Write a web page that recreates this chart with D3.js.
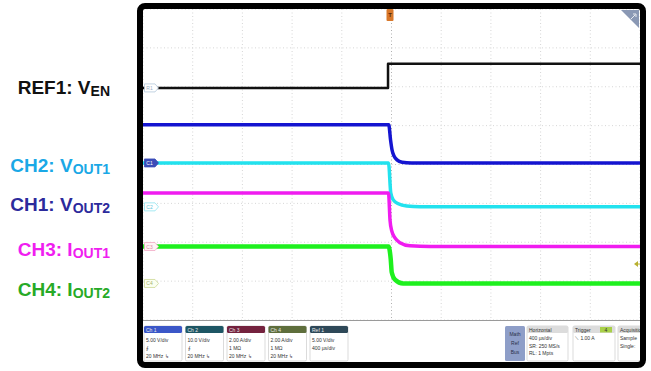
<!DOCTYPE html>
<html>
<head>
<meta charset="utf-8">
<script src="https://cdn.jsdelivr.net/npm/d3@7"></script>
<style>
  html, body { margin: 0; padding: 0; background: #fff; }
  svg { display: block; }
  text { font-family: "Liberation Sans", Arial, Helvetica, sans-serif; }
</style>
</head>
<body>
<svg id="chart" width="651" height="371"></svg>
<script>
// time axis: 400 us/div, 10 div, trigger in the middle
const timeTicks = [-2000, -1600, -1200, -800, -400, 0, 400, 800, 1200, 1600, 2000];
const divTicks = [-4, -3, -2, -1, 0, 1, 2, 3, 4];

// REF1: V_EN (5 V/div)
const refT = [-2000, -28, -28, 2000];
const refV = [0, 0, 3.1, 3.1];
// CH1: V_OUT2 (5 V/div)
const ch1T = [-2000, -22, -8, 4, 20, 44, 85, 160, 2000];
const ch1V = [4.9, 4.9, 3.0, 1.7, 0.9, 0.4, 0.1, 0.0, 0.0];
// CH2: V_OUT1 (10 V/div)
const ch2T = [-2000, -24, -6, 14, 55, 122, 229, 2000];
const ch2V = [11.3, 11.3, 3.6, 1.8, 0.8, 0.2, 0.0, 0.0];
// CH3: I_OUT1 (2 A/div)
const ch3T = [-2000, -24, -12, 2, 28, 68, 149, 310, 2000];
const ch3V = [2.75, 2.75, 1.36, 0.8, 0.44, 0.2, 0.04, 0.0, 0.0];
// CH4: I_OUT2 (2 A/div)
const ch4T = [-2000, -24, -6, 2, 28, 93, 2000];
const ch4V = [1.9, 1.9, 1.23, 0.57, 0.2, 0.0, 0.0];

const triggerLevel = 1.0; // A, on CH4

// channel setup: units per div and ground position (div)
const channels = [
  { id: 'R1', t: refT, v: refV, scale: 5, pos: 1.97, color: '#111', width: 2.5, curve: d3.curveLinear,
    mark: { fill: '#fff', stroke: '#b4c8dc', text: '#9ab0c8' } },
  { id: 'C1', t: ch1T, v: ch1V, scale: 5, pos: 0.04, color: '#1414d0', width: 3.5, curve: d3.curveMonotoneX,
    mark: { fill: '#3b4cb8', stroke: '#3b4cb8', text: '#fff' } },
  { id: 'C2', t: ch2T, v: ch2V, scale: 10, pos: -1.09, color: '#22e2ee', width: 3.5, curve: d3.curveMonotoneX,
    mark: { fill: '#fff', stroke: '#8fe4f0', text: '#60c8dc' } },
  { id: 'C3', t: ch3T, v: ch3V, scale: 2, pos: -2.11, color: '#f01cf0', width: 3.5, curve: d3.curveMonotoneX,
    mark: { fill: '#fff4f6', stroke: '#f0a8c4', text: '#d88aa8' } },
  { id: 'C4', t: ch4T, v: ch4V, scale: 2, pos: -3.06, color: '#1ef01e', width: 4.5, curve: d3.curveMonotoneX,
    mark: { fill: '#fbfff0', stroke: '#cbd896', text: '#a8b470' } }
];

const labels = [
  { main: 'REF1: V', sub: 'EN', color: '#111', y: 94 },
  { main: 'CH2: V', sub: 'OUT1', color: '#1aa8e6', y: 172 },
  { main: 'CH1: V', sub: 'OUT2', color: '#2c2a9c', y: 211 },
  { main: 'CH3: I', sub: 'OUT1', color: '#f01ef0', y: 256 },
  { main: 'CH4: I', sub: 'OUT2', color: '#27aa27', y: 296 }
];

const chanBoxes = [
  { head: 'Ch 1', color: '#3b57c8', lines: ['5.00 V/div', '\u2A19', '20 MHz \u21B3'] },
  { head: 'Ch 2', color: '#1d5664', lines: ['10.0 V/div', '\u2A19', '20 MHz \u21B3'] },
  { head: 'Ch 3', color: '#74223e', lines: ['2.00 A/div', '1 M\u03A9', '20 MHz \u21B3'] },
  { head: 'Ch 4', color: '#5e6e3c', lines: ['2.00 A/div', '1 M\u03A9', '20 MHz \u21B3'] },
  { head: 'Ref 1', color: '#2e4858', lines: ['5.00 V/div', '400 \u00B5s/div'] }
];

const svg = d3.select('#chart');
const plot = { left: 143, right: 640, top: 9, bottom: 320 };

const x = d3.scaleLinear().domain([-2000, 2000]).range([plot.left, plot.right]);
const y = d3.scaleLinear().domain([-4, 4]).range([plot.bottom, plot.top]);

svg.append('rect').attr('x', plot.left).attr('y', plot.top)
  .attr('width', plot.right - plot.left).attr('height', 362 - plot.top).attr('fill', '#fff');

// grid
const grid = svg.append('g').attr('stroke', '#d6d6d6').attr('stroke-width', 1).attr('stroke-dasharray', '1,2.5');
grid.selectAll('.vg').data(timeTicks).enter().append('line')
  .attr('x1', d => x(d)).attr('x2', d => x(d))
  .attr('y1', plot.top).attr('y2', plot.bottom)
  .attr('stroke', d => d === 0 ? '#b0b0b0' : null);
grid.selectAll('.hg').data(divTicks).enter().append('line')
  .attr('y1', d => y(d)).attr('y2', d => y(d))
  .attr('x1', plot.left).attr('x2', plot.right)
  .attr('stroke', d => d === 0 ? '#c4c4c4' : null);

// plot bottom border
svg.append('line').attr('x1', plot.left).attr('x2', plot.right)
  .attr('y1', plot.bottom + 0.5).attr('y2', plot.bottom + 0.5)
  .attr('stroke', '#9a9a9a').attr('stroke-width', 1);

// traces
const traces = svg.append('g');
channels.forEach(ch => {
  const pts = ch.t.map((t, i) => [t, ch.v[i]]);
  const line = d3.line()
    .x(d => x(d[0]))
    .y(d => y(ch.pos + d[1] / ch.scale))
    .curve(ch.curve);
  traces.append('path')
    .attr('d', line(pts))
    .attr('fill', 'none')
    .attr('stroke', ch.color)
    .attr('stroke-width', ch.width)
    .attr('stroke-linejoin', 'round');
});

// ground markers on the left edge
const marks = svg.append('g');
channels.forEach(ch => {
  const my = y(ch.pos);
  const g = marks.append('g').attr('transform', `translate(${plot.left + 1},${my})`);
  g.append('path')
    .attr('d', 'M0.5,-4 L11,-4 L14.5,0 L11,4 L0.5,4 Z')
    .attr('fill', ch.mark.fill).attr('stroke', ch.mark.stroke).attr('stroke-width', 0.8);
  g.append('text').attr('x', 5.5).attr('y', 2).attr('text-anchor', 'middle')
    .attr('font-size', 5).attr('fill', ch.mark.text).text(ch.id);
});

// trigger level marker (right edge)
const trigY = y(channels[4].pos + triggerLevel / channels[4].scale);
svg.append('path')
  .attr('d', `M${plot.right - 6},${trigY} L${plot.right - 2},${trigY - 3} L${plot.right - 2},${trigY + 3} Z`)
  .attr('fill', '#b8b030');
svg.append('line').attr('x1', plot.right - 4).attr('x2', plot.right).attr('y1', trigY).attr('y2', trigY)
  .attr('stroke', '#b8b030').attr('stroke-width', 1);

// trigger position marker (top)
const tx = x(-12);
svg.append('rect').attr('x', tx - 3.5).attr('y', plot.top).attr('width', 7).attr('height', 12)
  .attr('rx', 1).attr('fill', '#d8782a');
svg.append('text').attr('x', tx).attr('y', plot.top + 8).attr('text-anchor', 'middle')
  .attr('font-size', 6).attr('font-weight', 'bold').attr('fill', '#5a2a08').text('T');

// top-right corner icon
svg.append('path').attr('d', 'M621,10 L639,10 L639,28 Z').attr('fill', '#8a98b4');
svg.append('path').attr('d', 'M631,19 L635,15 M633,14 L636,14 L636,17')
  .attr('stroke', '#fff').attr('stroke-width', 0.8).attr('fill', 'none');

// bottom info boxes
const info = svg.append('g').attr('font-size', 5);
const boxTop = 326, boxH = 35;
chanBoxes.forEach((b, i) => {
  const bx = 144 + i * 41.5;
  const g = info.append('g').attr('transform', `translate(${bx},${boxTop})`);
  g.append('rect').attr('width', 38).attr('height', boxH).attr('rx', 1.5)
    .attr('fill', '#fff').attr('stroke', '#d2d2d2').attr('stroke-width', 0.8);
  g.append('rect').attr('width', 38).attr('height', 7).attr('rx', 1.5).attr('fill', b.color);
  g.append('text').attr('x', 2).attr('y', 5.5).attr('fill', '#e8e8e8').text(b.head);
  b.lines.forEach((l, j) => {
    g.append('text').attr('x', 2).attr('y', 15.5 + j * 8).attr('fill', '#333').text(l);
  });
});

// Math / Ref / Bus
const mrb = info.append('g').attr('transform', `translate(505,${boxTop})`);
mrb.append('rect').attr('width', 20).attr('height', boxH).attr('rx', 1.5).attr('fill', '#8e9ec8');
['Math', 'Ref', 'Bus'].forEach((l, j) => {
  mrb.append('text').attr('x', 10).attr('y', 10 + j * 9).attr('text-anchor', 'middle')
    .attr('fill', '#2a3048').text(l);
});

const rightBoxes = [
  { x: 527, w: 41, head: 'Horizontal', lines: ['400 \u00B5s/div', 'SR: 250 MS/s', 'RL: 1 Mpts'] },
  { x: 573, w: 42, head: 'Trigger', lines: ['\u27CD         1.00 A'] },
  { x: 618, w: 30, head: 'Acquisition', lines: ['Sample', 'Single:'] }
];
rightBoxes.forEach(b => {
  const g = info.append('g').attr('transform', `translate(${b.x},${boxTop})`);
  g.append('rect').attr('width', b.w).attr('height', boxH).attr('rx', 1.5)
    .attr('fill', '#fff').attr('stroke', '#d2d2d2').attr('stroke-width', 0.8);
  g.append('rect').attr('width', b.w).attr('height', 7).attr('rx', 1.5).attr('fill', '#dcdcdc');
  g.append('text').attr('x', 2).attr('y', 5.5).attr('fill', '#333').text(b.head);
  b.lines.forEach((l, j) => {
    g.append('text').attr('x', 2).attr('y', 14 + j * 7.5).attr('fill', '#333').text(l);
  });
});
// trigger source badge
svg.append('rect').attr('x', 600).attr('y', 327).attr('width', 12).attr('height', 5.5)
  .attr('fill', '#a8d048');
svg.append('text').attr('x', 606).attr('y', 331.5).attr('text-anchor', 'middle')
  .attr('font-size', 5).attr('fill', '#333').text('4');

// cover anything spilling past the frame, then the frame itself
svg.append('rect').attr('x', 643).attr('y', 0).attr('width', 8).attr('height', 371).attr('fill', '#fff');
svg.append('rect').attr('x', 140).attr('y', 6).attr('width', 503).attr('height', 359)
  .attr('rx', 5).attr('fill', 'none').attr('stroke', '#000').attr('stroke-width', 6);

// channel labels on the left
const lab = svg.append('g').attr('font-weight', 'bold').attr('text-anchor', 'end');
labels.forEach(l => {
  const t = lab.append('text').attr('x', 110).attr('y', l.y).attr('fill', l.color).attr('font-size', 19);
  t.append('tspan').text(l.main);
  t.append('tspan').attr('font-size', 14).attr('dy', 2).text(l.sub);
});
</script>
</body>
</html>
